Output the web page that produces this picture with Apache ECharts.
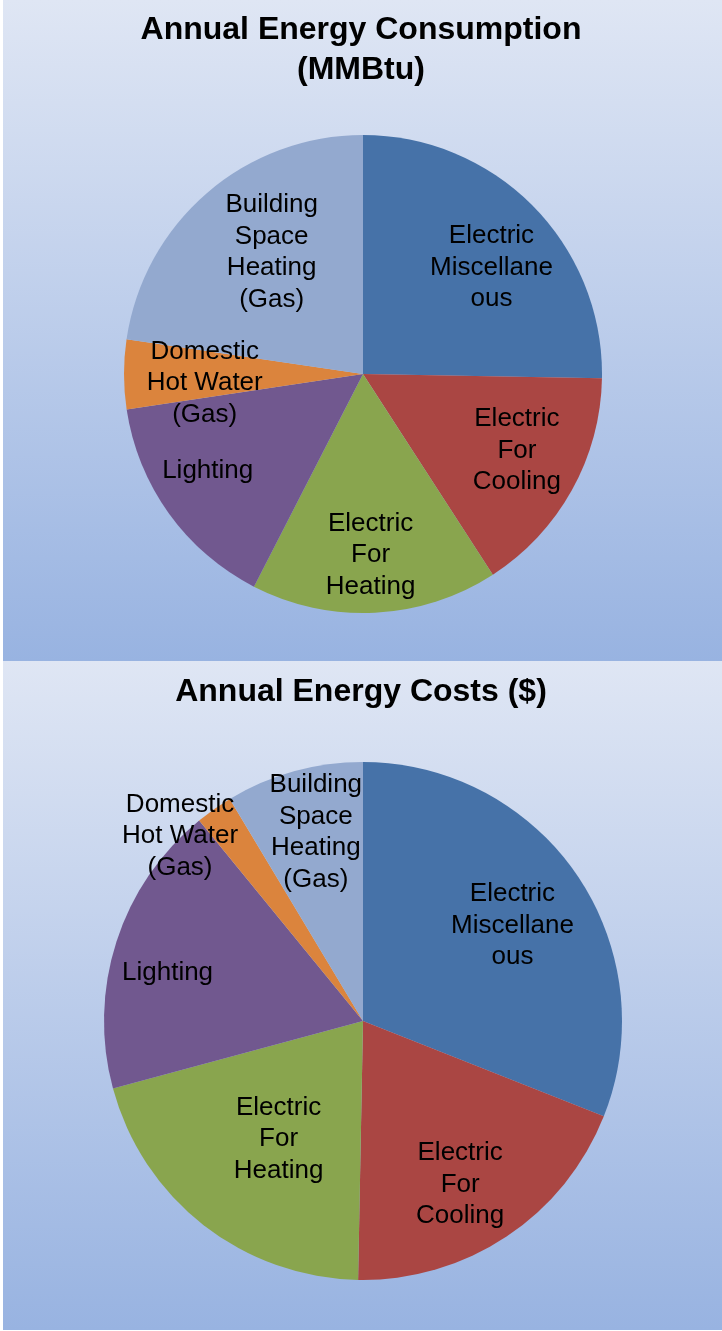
<!DOCTYPE html>
<html>
<head>
<meta charset="utf-8">
<script src="https://cdn.jsdelivr.net/npm/echarts@6/dist/echarts.min.js"></script>
<style>
html,body{margin:0;padding:0;background:#fff;}
#chart{width:722px;height:1331px;}
</style>
</head>
<body>
<div id="chart"></div>
<script>
// Data (shares, percent)
const categories = ['Electric Miscellaneous','Electric For Cooling','Electric For Heating','Lighting','Domestic Hot Water (Gas)','Building Space Heating (Gas)'];
const labelTexts = ['Electric\nMiscellane\nous','Electric\nFor\nCooling','Electric\nFor\nHeating','Lighting','Domestic\nHot Water\n(Gas)','Building\nSpace\nHeating\n(Gas)'];
const consumptionValues = [25.3, 15.6, 16.7, 15.1, 4.7, 22.7];
const costValues = [31.0, 19.3, 20.5, 18.3, 2.3, 8.6];
const titles = ['Annual Energy Consumption\n(MMBtu)', 'Annual Energy Costs ($)'];
const colors = ['#4672A8','#AA4643','#89A54E','#71588F','#DB843D','#93A9CF'];

const FONT = 'Arial, "Liberation Sans", sans-serif';
const chart = echarts.init(document.getElementById('chart'), null, {renderer:'canvas'});

// label nudges (style only)
const topOffsets = [[7,13],[5,-6],[-1,11],[-17,-3],[12,9],[20,7]];
const bottomOffsets = [[-3,8],[-5,10],[29,-27],[-20,8],[-77,-34],[2,-11]];

function bg(y, h){
  return {
    type:'rect', left:3, top:y, silent:true, z:-10,
    shape:{width:719, height:h},
    style:{fill:new echarts.graphic.LinearGradient(0,0,0,1,[
      {offset:0,color:'#DFE6F4'},{offset:1,color:'#98B3E1'}])}
  };
}

function pies(values, cx, cy, r, offsets){
  const base = {
    type:'pie', center:[cx,cy], radius:[0,r], startAngle:90, clockwise:true,
    silent:true, animation:false,
    label:{show:false}, labelLine:{show:false},
    itemStyle:{borderWidth:0},
    data: values.map((v,i)=>({name:categories[i], value:v, itemStyle:{color:colors[i]}}))
  };
  const overlay = {
    type:'pie', center:[cx,cy], radius:[r*0.4,r], startAngle:90, clockwise:true,
    silent:true, animation:false, z:5,
    labelLine:{show:false},
    label:{show:true, position:'inside', color:'#000', fontFamily:FONT, fontSize:26,
           lineHeight:31.5, textBorderWidth:0, formatter:(p)=>labelTexts[p.dataIndex]},
    itemStyle:{color:'rgba(0,0,0,0)', borderWidth:0},
    data: values.map((v,i)=>({name:categories[i], value:v, label:{offset:offsets[i]}}))
  };
  return [base, overlay];
}

const option = {
  backgroundColor:'#fff',
  animation:false,
  graphic:[bg(0,661), bg(661,669)],
  title:[
    {text:titles[0], left:'center', top:5,
     textStyle:{fontFamily:FONT, fontSize:32, fontWeight:'bold', color:'#000', lineHeight:40}},
    {text:titles[1], left:'center', top:667,
     textStyle:{fontFamily:FONT, fontSize:32, fontWeight:'bold', color:'#000', lineHeight:40}}
  ],
  series:[
    ...pies(consumptionValues, 363, 374, 239, topOffsets),
    ...pies(costValues, 363, 1021, 259, bottomOffsets)
  ]
};
chart.setOption(option);
</script>
</body>
</html>
